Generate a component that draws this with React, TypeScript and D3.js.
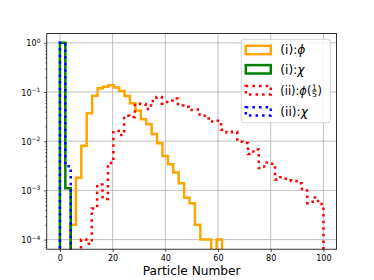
import { useEffect, useRef } from 'react';
import * as d3 from 'd3';

// histogram ranges [first edge, last edge] and bin heights (density, log axis)
const phiIRange = [4, 61.5];
const phiIValues = [
  2.0e-4, 1.8e-3, 8.1e-3, 0.037, 0.084, 0.119, 0.128, 0.137, 0.124, 0.105,
  0.083, 0.059, 0.042, 0.028, 0.022, 0.014, 9.1e-3, 5.0e-3, 3.4e-3, 2.3e-3,
  1.4e-3, 7.1e-4, 5.5e-4, 2.0e-4, 1.0e-4, 1.0e-4, 0, 1.0e-4,
];

const chiIRange = [0, 4.1];
const chiIValues = [0.999, 1.1e-3];

const phiIIRange = [8, 100];
const phiIIValues = [
  1.0e-4, 8.2e-5, 4.3e-4, 1.32e-3, 6.7e-4, 3.6e-3, 0.0161, 0.0134, 0.033, 0.031,
  0.058, 0.057, 0.045, 0.066, 0.079, 0.058, 0.067, 0.074, 0.053, 0.050,
  0.043, 0.044, 0.033, 0.029, 0.025, 0.026, 0.017, 0.015, 0.0155, 0.0098,
  0.0092, 0.0055, 0.0068, 0.00285, 0.0037, 0.0035, 0.00167, 0.00185, 0.0016, 0.00155,
  0.0014, 0.0010, 5.5e-4, 7.2e-4, 5.3e-4,
];

const chiIIRange = [0, 4.1];
const chiIIValues = [0.997, 3.1e-3];

const xTicks = [0, 20, 40, 60, 80, 100];
const yExponents = [0, -1, -2, -3, -4];

const series = [
  { range: phiIRange, values: phiIValues, color: 'orange', dotted: false },
  { range: chiIRange, values: chiIValues, color: 'green', dotted: false },
  { range: phiIIRange, values: phiIIValues, color: 'red', dotted: true },
  { range: chiIIRange, values: chiIIValues, color: 'blue', dotted: true },
];

const FONT = 'DejaVu Sans';

const App = () => {
  const ref = useRef(null);

  useEffect(() => {
    const svg = d3.select(ref.current);
    svg.selectAll('*').remove();

    const left = 46.75, right = 336.6, top = 33.6, bottom = 249.2;
    const x = d3.scaleLinear().domain([-5, 105]).range([left, right]);
    const y = d3.scaleLog()
      .domain([Math.pow(10, -4.195), Math.pow(10, 0.187)])
      .range([bottom, top]);
    const floor = 1e-7;

    svg.append('defs').append('clipPath').attr('id', 'plotArea')
      .append('rect')
      .attr('x', left).attr('y', top)
      .attr('width', right - left).attr('height', bottom - top);

    // grid
    const grid = svg.append('g').attr('stroke', '#b0b0b0').attr('stroke-width', 0.8);
    xTicks.forEach(t => {
      grid.append('line').attr('x1', x(t)).attr('x2', x(t)).attr('y1', top).attr('y2', bottom);
    });
    yExponents.forEach(e => {
      const v = Math.pow(10, e);
      grid.append('line').attr('x1', left).attr('x2', right).attr('y1', y(v)).attr('y2', y(v));
    });

    // step histograms
    const line = d3.line().x(d => x(d[0])).y(d => y(d[1]));
    const plot = svg.append('g').attr('clip-path', 'url(#plotArea)');
    series.forEach(s => {
      const [lo, hi] = s.range;
      const w = (hi - lo) / s.values.length;
      const pts = [[lo, floor]];
      s.values.forEach((v, i) => {
        const h = v > 0 ? v : floor;
        pts.push([lo + i * w, h], [lo + (i + 1) * w, h]);
      });
      pts.push([hi, floor]);
      plot.append('path')
        .attr('d', line(pts))
        .attr('fill', 'none')
        .attr('stroke', s.color)
        .attr('stroke-width', 2.5)
        .attr('stroke-dasharray', s.dotted ? '2.5 4.1' : null)
        .attr('stroke-linejoin', 'miter');
    });

    // x axis
    const xAxis = svg.append('g')
      .attr('transform', `translate(0,${bottom})`)
      .call(d3.axisBottom(x).tickValues(xTicks).tickSize(2.8).tickPadding(2.8).tickSizeOuter(0));
    xAxis.select('.domain').remove();
    xAxis.selectAll('line').attr('stroke-width', 0.65);
    xAxis.selectAll('text').attr('font-size', 8.1).attr('font-family', FONT).attr('fill', '#000');

    // y axis (major + minor)
    const minor = [];
    for (let e = -5; e <= 0; e++) {
      for (let m = 2; m <= 9; m++) {
        const v = m * Math.pow(10, e);
        if (y(v) >= top && y(v) <= bottom) minor.push(v);
      }
    }
    const yMinor = svg.append('g')
      .attr('transform', `translate(${left},0)`)
      .call(d3.axisLeft(y).tickValues(minor).tickSize(1.6).tickFormat(() => '').tickSizeOuter(0));
    yMinor.select('.domain').remove();
    yMinor.selectAll('line').attr('stroke-width', 0.5);

    const yAxis = svg.append('g')
      .attr('transform', `translate(${left},0)`)
      .call(d3.axisLeft(y).tickValues(yExponents.map(e => Math.pow(10, e)))
        .tickSize(2.8).tickPadding(3.5).tickSizeOuter(0).tickFormat(() => ''));
    yAxis.select('.domain').remove();
    yAxis.selectAll('line').attr('stroke-width', 0.65);
    yAxis.selectAll('text').each(function (d) {
      const t = d3.select(this)
        .attr('font-family', FONT).attr('fill', '#000').attr('font-size', 8.1)
        .attr('dy', '0.38em');
      const e = Math.round(Math.log10(d));
      t.append('tspan').text('10');
      t.append('tspan').attr('dy', -3.6).attr('font-size', 6)
        .text(e < 0 ? `\u2212${-e}` : `${e}`);
    });

    // spines
    svg.append('rect')
      .attr('x', left).attr('y', top)
      .attr('width', right - left).attr('height', bottom - top)
      .attr('fill', 'none').attr('stroke', '#000').attr('stroke-width', 0.8);

    // x label
    svg.append('text')
      .attr('x', (left + right) / 2).attr('y', 275)
      .attr('text-anchor', 'middle')
      .attr('font-family', FONT).attr('font-size', 12.2)
      .text('Particle Number');

    // legend
    const leg = svg.append('g');
    leg.append('rect')
      .attr('x', 241.3).attr('y', 39.3).attr('width', 89).attr('height', 83.4)
      .attr('rx', 2.5)
      .attr('fill', 'white').attr('fill-opacity', 0.8)
      .attr('stroke', '#cccccc').attr('stroke-width', 0.8);

    const rowY = [50, 69.3, 90.2, 111.4];
    series.forEach((s, i) => {
      leg.append('rect')
        .attr('x', 245.8).attr('y', rowY[i] - 4.2)
        .attr('width', 25).attr('height', 8.4)
        .attr('fill', 'none')
        .attr('stroke', s.color).attr('stroke-width', 2.5)
        .attr('stroke-dasharray', s.dotted ? '2.5 4.1' : null);
    });

    const labelX = 280.3;
    const label = (i, prefix, sym, size = 12.2) => {
      const t = leg.append('text')
        .attr('x', labelX).attr('y', rowY[i] + 4.4)
        .attr('font-family', FONT).attr('font-size', size);
      t.append('tspan').text(prefix);
      t.append('tspan').attr('font-style', 'italic').text(sym);
      return t;
    };
    label(0, '(i):', '\u03d5');
    label(1, '(i):', '\u03c7');
    const t3 = label(2, '(ii):', '\u03d5', 11.4);
    t3.append('tspan').text('(');
    const fx = labelX + t3.node().getComputedTextLength() + 0.3;
    const fw = 5.6;
    leg.append('text').attr('x', fx + fw / 2).attr('y', rowY[2] - 0.7)
      .attr('text-anchor', 'middle').attr('font-family', FONT).attr('font-size', 7.6).text('1');
    leg.append('line').attr('x1', fx + 0.3).attr('x2', fx + fw - 0.3)
      .attr('y1', rowY[2] + 0.6).attr('y2', rowY[2] + 0.6)
      .attr('stroke', '#000').attr('stroke-width', 0.6);
    leg.append('text').attr('x', fx + fw / 2).attr('y', rowY[2] + 7.2)
      .attr('text-anchor', 'middle').attr('font-family', FONT).attr('font-size', 7.6).text('5');
    leg.append('text').attr('x', fx + fw + 0.2).attr('y', rowY[2] + 4.4)
      .attr('font-family', FONT).attr('font-size', 11.4).text(')');
    label(3, '(ii):', '\u03c7');
  }, []);

  return (
    <svg ref={ref} width={374} height={280}
      style={{ position: 'absolute', left: 0, top: 0, background: 'white' }} />
  );
};

export default App;
